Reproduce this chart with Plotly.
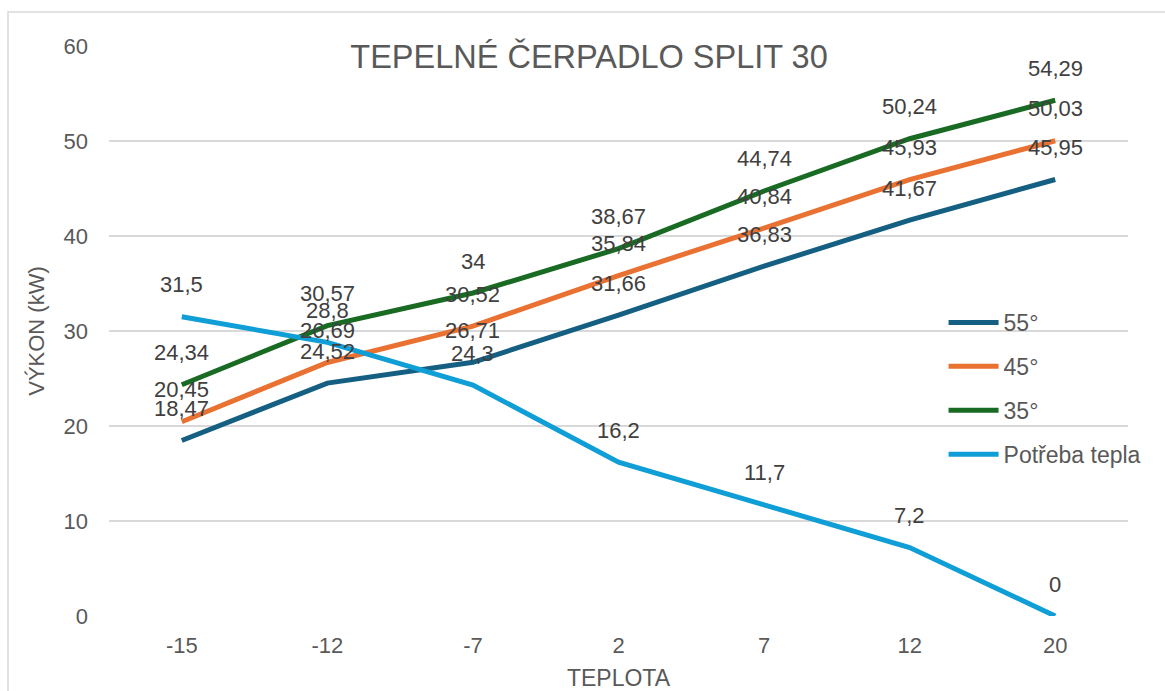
import plotly.graph_objects as go

categories = ["-15", "-12", "-7", "2", "7", "12", "20"]
s55 = [18.47, 24.52, 26.71, 31.66, 36.83, 41.67, 45.95]
s45 = [20.45, 26.69, 30.52, 35.84, 40.84, 45.93, 50.03]
s35 = [24.34, 30.57, 34, 38.67, 44.74, 50.24, 54.29]
demand = [31.5, 28.8, 24.3, 16.2, 11.7, 7.2, 0]

series_names = ["55°", "45°", "35°", "Potřeba tepla"]
series_values = [s55, s45, s35, demand]
series_colors = ["#156082", "#E97132", "#196B24", "#0F9ED5"]

FONT = "Liberation Sans"
TXT = "#595959"

def fmt(v):
    s = ("%g" % v)
    return s.replace(".", ",")

fig = go.Figure()
for name, vals, col in zip(series_names, series_values, series_colors):
    fig.add_trace(go.Scatter(
        x=categories, y=vals, name=name, mode="lines",
        line=dict(color=col, width=5), legendgroup=name,
    ))

annotations = []
for vals in series_values:
    for i, v in enumerate(vals):
        annotations.append(dict(
            x=i, y=v, xref="x", yref="y", text=fmt(v), showarrow=False,
            yshift=32, font=dict(family=FONT, size=22, color="#404040"),
        ))

fig.update_layout(
    width=1165, height=691,
    margin=dict(l=109, r=37, t=46, b=75),
    paper_bgcolor="white", plot_bgcolor="white",
    font=dict(family=FONT, size=20, color=TXT),
    title=dict(text="TEPELNÉ ČERPADLO SPLIT 30", x=0.5056, xanchor="center",
               y=1 - 57 / 691, yanchor="middle",
               font=dict(family=FONT, size=32.5, color=TXT)),
    xaxis=dict(type="category", range=[-0.5, 6.5], showgrid=False, zeroline=False,
               showline=False, ticks="", tickangle=0, ticklabelstandoff=14,
               automargin=False,
               tickfont=dict(size=22, color=TXT),
               title=dict(text="TEPLOTA", font=dict(size=23, color=TXT), standoff=16)),
    yaxis=dict(range=[0, 60], dtick=10, showgrid=True, gridcolor="#D9D9D9", gridwidth=1.5,
               zeroline=False, showline=False, ticks="", ticklabelstandoff=20,
               automargin=False,
               tickfont=dict(size=22, color=TXT),
               title=dict(text="VÝKON (kW)", font=dict(size=22, color=TXT), standoff=12)),
    legend=dict(x=0.819, y=(616 - 301) / 570, xanchor="left", yanchor="top",
                bgcolor="rgba(0,0,0,0)", font=dict(size=23, color=TXT),
                tracegroupgap=11, itemwidth=50),
    showlegend=True,
    annotations=annotations,
    shapes=[dict(type="rect", xref="paper", yref="paper",
                 x0=(8 - 109) / 1019, x1=(1175 - 109) / 1019,
                 y0=(616 - 700) / 570, y1=(616 - 12) / 570,
                 line=dict(color="#D9D9D9", width=1.5), fillcolor="rgba(0,0,0,0)",
                 layer="below")],
)

fig.write_html("out.html", config={"displayModeBar": False})
with open("out.html", "r", encoding="utf-8") as f:
    html = f.read()
html = html.replace("<head>", "<head><style>html,body{margin:0;padding:0;overflow:hidden;}</style>", 1)
with open("out.html", "w", encoding="utf-8") as f:
    f.write(html)
